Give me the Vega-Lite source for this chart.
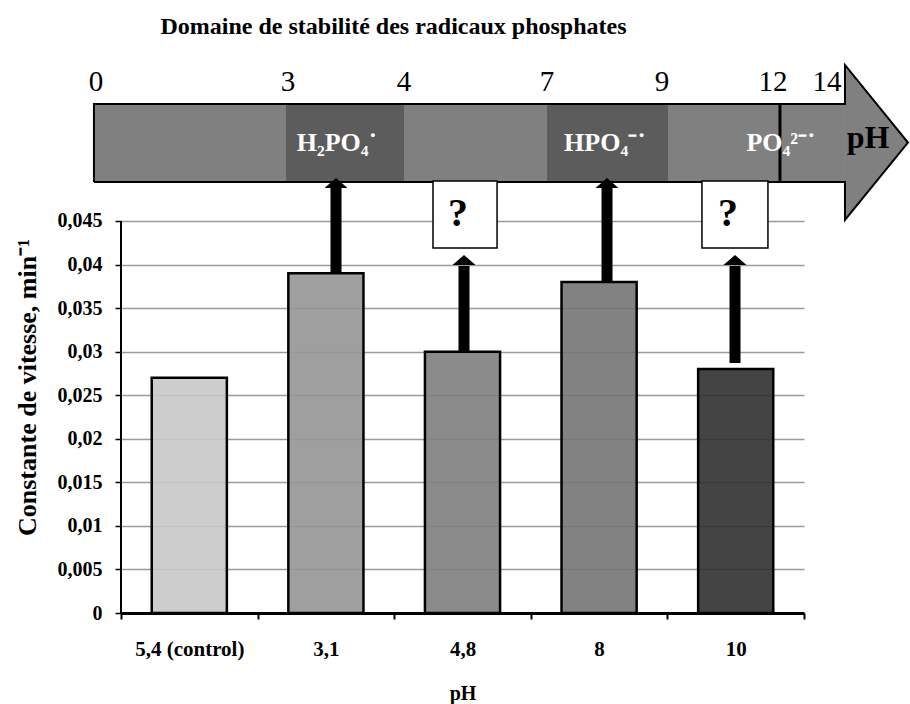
{
  "$schema": "https://vega.github.io/schema/vega-lite/v6.json",
  "width": 683,
  "height": 563,
  "autosize": {"type": "none"},
  "padding": {"left": 121, "top": 50, "right": 106, "bottom": 91},
  "background": "white",
  "title": {
    "text": "Domaine de stabilité  des radicaux phosphates",
    "font": "Liberation Serif",
    "fontSize": 24,
    "fontWeight": "bold",
    "color": "black",
    "anchor": "middle",
    "dx": -69,
    "dy": 23,
    "offset": 22,
    "baseline": "middle"
  },
  "datasets": {
    "bars": [
      {"pH": "5,4 (control)", "k": 0.027},
      {"pH": "3,1", "k": 0.039},
      {"pH": "4,8", "k": 0.030},
      {"pH": "8", "k": 0.038},
      {"pH": "10", "k": 0.028}
    ],
    "zones": [
      {"kind": "base", "x1": -0.198, "x2": 5.3, "y1": 0.04948, "y2": 0.05843},
      {"kind": "stable", "x1": 1.208, "x2": 2.072, "y1": 0.04948, "y2": 0.05843},
      {"kind": "stable", "x1": 3.119, "x2": 4.004, "y1": 0.04948, "y2": 0.05843}
    ],
    "head": [
      {"x": 5.3, "lo": 0.04512, "hi": 0.06291},
      {"x": 5.761, "lo": 0.05401, "hi": 0.05401}
    ],
    "outline": [
      {"o": 1, "x": -0.198, "y": 0.04948},
      {"o": 2, "x": -0.198, "y": 0.05843},
      {"o": 3, "x": 5.3, "y": 0.05843},
      {"o": 4, "x": 5.3, "y": 0.06291},
      {"o": 5, "x": 5.761, "y": 0.05401},
      {"o": 6, "x": 5.3, "y": 0.04512},
      {"o": 7, "x": 5.3, "y": 0.04948},
      {"o": 8, "x": -0.198, "y": 0.04948}
    ],
    "mark12": [{"x": 4.824, "y1": 0.04948, "y2": 0.05843}],
    "scalelabels": [
      {"t": "0", "x": -0.183, "y": 0.06096},
      {"t": "3", "x": 1.223, "y": 0.06096},
      {"t": "4", "x": 2.072, "y": 0.06096},
      {"t": "7", "x": 3.119, "y": 0.06096},
      {"t": "9", "x": 3.96, "y": 0.06096},
      {"t": "12", "x": 4.773, "y": 0.06096},
      {"t": "14", "x": 5.168, "y": 0.06096}
    ],
    "species": [
      {"t": "H₂PO₄˙", "x": 1.581, "y": 0.05395},
      {"t": "HPO₄⁻˙", "x": 3.543, "y": 0.05395},
      {"t": "PO₄²⁻˙", "x": 4.832, "y": 0.05395}
    ],
    "phlabel": [{"t": "pH", "x": 5.469, "y": 0.05453}],
    "arrows": [
      {"x": 1.574, "from": 0.039, "base": 0.04879, "tip": 0.04994},
      {"x": 2.511, "from": 0.030, "base": 0.03983, "tip": 0.0411},
      {"x": 3.558, "from": 0.038, "base": 0.04879, "tip": 0.04994},
      {"x": 4.495, "from": 0.0287, "base": 0.03983, "tip": 0.0411}
    ],
    "boxes": [
      {"x1": 2.284, "x2": 2.753, "y1": 0.0419, "y2": 0.04959, "qx": 2.467, "qy": 0.04575, "q": "?"},
      {"x1": 4.253, "x2": 4.736, "y1": 0.0419, "y2": 0.04959, "qx": 4.443, "qy": 0.04575, "q": "?"}
    ],
    "yline": [{"x": 0, "y1": 0, "y2": 0.045}]
  },
  "layer": [
    {
      "data": {"name": "bars"},
      "mark": {"type": "bar", "width": {"band": 0.55}, "stroke": "black", "strokeWidth": 2.5, "fillOpacity": 0.9},
      "encoding": {
        "x": {
          "field": "pH", "type": "nominal", "sort": null,
          "scale": {"paddingInner": 0, "paddingOuter": 0},
          "axis": {
            "title": "pH", "titleFont": "Liberation Serif", "titleFontSize": 20, "titleFontWeight": "bold",
            "titleColor": "black", "titleY": 80, "titleBaseline": "middle",
            "labelFont": "Liberation Serif", "labelFontSize": 21, "labelFontWeight": "bold", "labelColor": "black",
            "labelAngle": 0, "labelPadding": 19, "tickBand": "extent", "tickColor": "black", "tickWidth": 2,
            "tickSize": 6, "domainColor": "black", "domainWidth": 3, "grid": false
          }
        },
        "y": {
          "field": "k", "type": "quantitative",
          "scale": {"domain": [0, 0.06463], "nice": false, "zero": true},
          "axis": {
            "title": "Constante de vitesse, min⁻¹", "titleFont": "Liberation Serif", "titleFontSize": 26,
            "titleFontWeight": "bold", "titleColor": "black", "titleAngle": -90, "titleX": -94, "titleY": 337,
            "titleAlign": "center", "titleBaseline": "middle",
            "values": [0, 0.005, 0.01, 0.015, 0.02, 0.025, 0.03, 0.035, 0.04, 0.045],
            "labelExpr": "replace(format(datum.value, '~g'), '.', ',')",
            "labelFont": "Liberation Serif", "labelFontSize": 20, "labelFontWeight": "bold", "labelColor": "black",
            "labelPadding": 13, "domain": false, "tickColor": "black", "tickSize": 6, "tickWidth": 1.5,
            "grid": true, "gridColor": "#9a9a9a", "gridWidth": 1.5
          }
        },
        "fill": {
          "field": "pH", "type": "nominal", "sort": null,
          "scale": {"domain": ["5,4 (control)", "3,1", "4,8", "8", "10"], "range": ["#c8c8c8", "#959595", "#7e7e7e", "#747474", "#303030"]},
          "legend": null
        }
      }
    },
    {
      "layer": [
        {
          "data": {"name": "zones"},
          "mark": {"type": "rect", "strokeWidth": 0},
          "encoding": {
            "x": {"field": "x1", "type": "quantitative", "scale": {"domain": [0, 5], "nice": false, "zero": false}, "axis": null},
            "x2": {"field": "x2"},
            "y": {"field": "y1", "type": "quantitative"},
            "y2": {"field": "y2"},
            "fill": {"field": "kind", "type": "nominal", "scale": {"domain": ["base", "stable"], "range": ["#808080", "#5c5c5c"]}, "legend": null}
          }
        },
        {
          "data": {"name": "head"},
          "mark": {"type": "area", "orient": "vertical", "fill": "#808080", "opacity": 1},
          "encoding": {
            "x": {"field": "x", "type": "quantitative", "scale": {"domain": [0, 5], "nice": false, "zero": false}, "axis": null},
            "y": {"field": "lo", "type": "quantitative"},
            "y2": {"field": "hi"}
          }
        },
        {
          "data": {"name": "mark12"},
          "mark": {"type": "rule", "color": "black", "strokeWidth": 3},
          "encoding": {
            "x": {"field": "x", "type": "quantitative", "scale": {"domain": [0, 5], "nice": false, "zero": false}, "axis": null},
            "y": {"field": "y1", "type": "quantitative"},
            "y2": {"field": "y2"}
          }
        },
        {
          "data": {"name": "outline"},
          "mark": {"type": "line", "color": "black", "strokeWidth": 2},
          "encoding": {
            "x": {"field": "x", "type": "quantitative", "scale": {"domain": [0, 5], "nice": false, "zero": false}, "axis": null},
            "y": {"field": "y", "type": "quantitative"},
            "order": {"field": "o", "type": "quantitative"}
          }
        },
        {
          "data": {"name": "scalelabels"},
          "mark": {"type": "text", "font": "Liberation Serif", "fontSize": 29, "color": "black", "baseline": "middle", "align": "center"},
          "encoding": {
            "x": {"field": "x", "type": "quantitative", "scale": {"domain": [0, 5], "nice": false, "zero": false}, "axis": null},
            "y": {"field": "y", "type": "quantitative"},
            "text": {"field": "t"}
          }
        },
        {
          "data": {"name": "species"},
          "mark": {"type": "text", "font": "Liberation Serif", "fontSize": 26, "fontWeight": "bold", "color": "white", "baseline": "middle", "align": "center"},
          "encoding": {
            "x": {"field": "x", "type": "quantitative", "scale": {"domain": [0, 5], "nice": false, "zero": false}, "axis": null},
            "y": {"field": "y", "type": "quantitative"},
            "text": {"field": "t"}
          }
        },
        {
          "data": {"name": "phlabel"},
          "mark": {"type": "text", "font": "Liberation Serif", "fontSize": 32, "fontWeight": "bold", "color": "black", "baseline": "middle", "align": "center"},
          "encoding": {
            "x": {"field": "x", "type": "quantitative", "scale": {"domain": [0, 5], "nice": false, "zero": false}, "axis": null},
            "y": {"field": "y", "type": "quantitative"},
            "text": {"field": "t"}
          }
        },
        {
          "data": {"name": "arrows"},
          "mark": {"type": "rule", "color": "black", "strokeWidth": 11, "strokeCap": "butt"},
          "encoding": {
            "x": {"field": "x", "type": "quantitative", "scale": {"domain": [0, 5], "nice": false, "zero": false}, "axis": null},
            "y": {"field": "from", "type": "quantitative"},
            "y2": {"field": "base"}
          }
        },
        {
          "data": {"name": "arrows"},
          "mark": {"type": "point", "shape": "M0,0L1,0.87L-1,0.87Z", "size": 529, "filled": true, "fill": "black", "opacity": 1, "strokeWidth": 0},
          "encoding": {
            "x": {"field": "x", "type": "quantitative", "scale": {"domain": [0, 5], "nice": false, "zero": false}, "axis": null},
            "y": {"field": "tip", "type": "quantitative"}
          }
        },
        {
          "data": {"name": "boxes"},
          "mark": {"type": "rect", "fill": "white", "stroke": "black", "strokeWidth": 1.5},
          "encoding": {
            "x": {"field": "x1", "type": "quantitative", "scale": {"domain": [0, 5], "nice": false, "zero": false}, "axis": null},
            "x2": {"field": "x2"},
            "y": {"field": "y1", "type": "quantitative"},
            "y2": {"field": "y2"}
          }
        },
        {
          "data": {"name": "boxes"},
          "mark": {"type": "text", "font": "Liberation Serif", "fontSize": 40, "fontWeight": "bold", "color": "black", "baseline": "middle", "align": "center"},
          "encoding": {
            "x": {"field": "qx", "type": "quantitative", "scale": {"domain": [0, 5], "nice": false, "zero": false}, "axis": null},
            "y": {"field": "qy", "type": "quantitative"},
            "text": {"field": "q"}
          }
        },
        {
          "data": {"name": "yline"},
          "mark": {"type": "rule", "color": "black", "strokeWidth": 2},
          "encoding": {
            "x": {"field": "x", "type": "quantitative", "scale": {"domain": [0, 5], "nice": false, "zero": false}, "axis": null},
            "y": {"field": "y1", "type": "quantitative"},
            "y2": {"field": "y2"}
          }
        }
      ]
    }
  ],
  "resolve": {"scale": {"x": "independent", "fill": "independent"}},
  "config": {"view": {"stroke": null}, "font": "Liberation Serif"}
}
